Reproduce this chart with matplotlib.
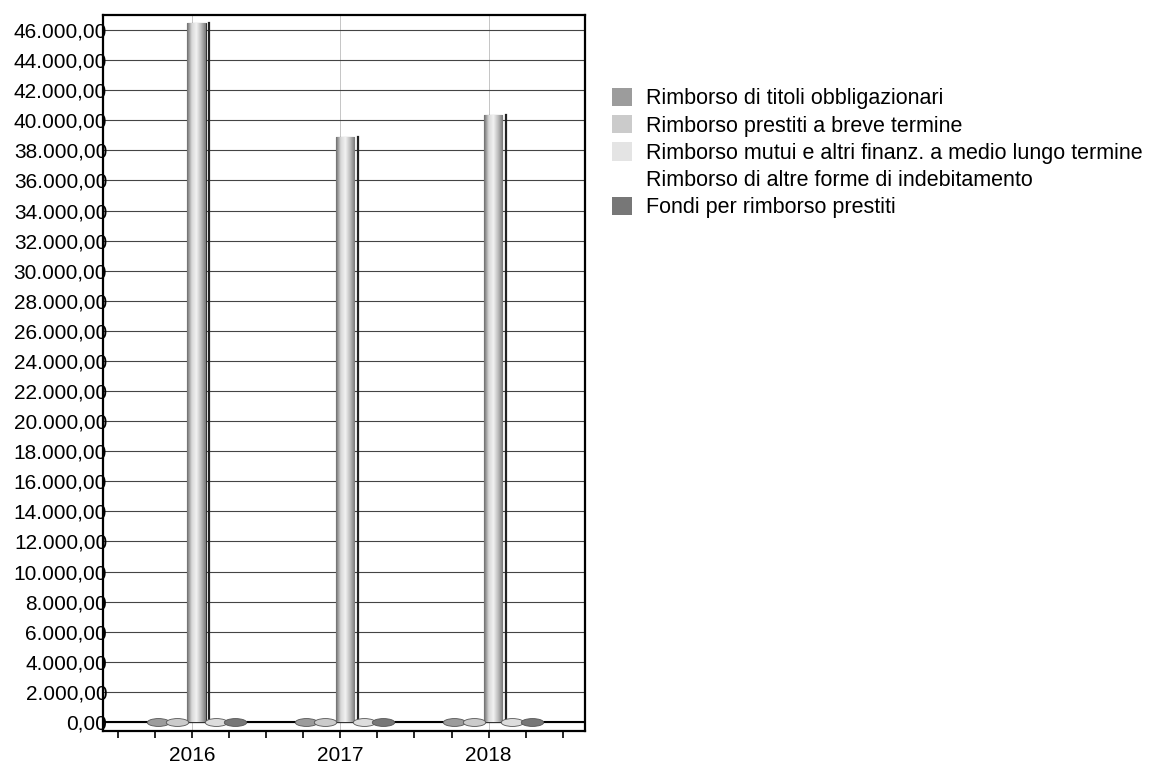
import matplotlib.pyplot as plt
import numpy as np
from matplotlib.colors import LinearSegmentedColormap
from matplotlib.path import Path
from matplotlib.transforms import Affine2D
from matplotlib.ticker import FuncFormatter, MultipleLocator

plt.rcParams.update({'font.family': ['Liberation Sans', 'DejaVu Sans']})

years = ['2016', '2017', '2018']
series = ['Rimborso di titoli obbligazionari',
          'Rimborso prestiti a breve termine',
          'Rimborso mutui e altri finanz. a medio lungo termine',
          'Rimborso di altre forme di indebitamento',
          'Fondi per rimborso prestiti']
titoli = [0, 0, 0]
breve = [0, 0, 0]
mutui = [46500, 38900, 40350]
altre = [0, 0, 0]
fondi = [0, 0, 0]
values = [titoli, breve, mutui, altre, fondi]
colors = ['#9c9c9c', '#cbcbcb', '#e4e4e4', '#ffffff', '#777777']

fig = plt.figure(figsize=(11.6, 7.78), dpi=100)
ax = fig.add_axes([103 / 1160, 47 / 778, 482 / 1160, 716 / 778])

x = np.arange(len(years))
width = 0.13
cyl = LinearSegmentedColormap.from_list('cyl', ['#6e6e6e', '#d8d8d8', '#f2f2f2', '#bdbdbd', '#7a7a7a'])
disc = Path.unit_circle().transformed(Affine2D().scale(1.0, 0.35))

for i, (name, vals, col) in enumerate(zip(series, values, colors)):
    pos = x + (i - 2) * width + 0.03
    bars = ax.bar(pos, vals, width * 0.95, color=col, edgecolor='#333333',
                  linewidth=0.8, label=name, zorder=3)
    for b, v in zip(bars, vals):
        if v > 0:
            im = ax.imshow(np.linspace(0, 1, 64).reshape(1, -1), cmap=cyl, aspect='auto',
                           extent=[b.get_x(), b.get_x() + b.get_width(), 0, v], zorder=4)
            im.set_clip_path(b)
            ax.plot([b.get_x() + b.get_width() * 1.2] * 2, [0, v], color='#222222', lw=1.6, zorder=4)
    small = [p for p, v in zip(pos, vals) if v == 0]
    if small:
        ax.scatter(small, [0] * len(small), s=260, marker=disc, color=col if col != '#ffffff' else '#dddddd',
                   edgecolor='#555555', linewidth=0.6, zorder=5)

ax.set_xlim(-0.6, 2.65)
ax.set_ylim(-600, 47000)
ax.set_xticks(x)
ax.set_xticklabels(years, fontsize=15)
ax.xaxis.set_minor_locator(MultipleLocator(0.25))
ax.tick_params(axis='x', which='both', direction='out', length=5, width=1.2, pad=6)
ax.set_yticks(np.arange(0, 46001, 2000))
ax.yaxis.set_major_formatter(FuncFormatter(
    lambda v, p: f'{v:,.2f}'.replace(',', 'X').replace('.', ',').replace('X', '.')))
ax.tick_params(axis='y', length=0, pad=-3, labelsize=15)
ax.grid(axis='y', color='#444444', lw=0.8, zorder=0)
ax.grid(axis='x', color='#bbbbbb', lw=0.6, zorder=0)
ax.axhline(0, color='black', lw=1.5, zorder=2)
for s in ax.spines.values():
    s.set_linewidth(1.6)
    s.set_color('black')

leg = fig.legend(loc='upper left', bbox_to_anchor=(601 / 1160, 1 - 77 / 778), frameon=False,
                 fontsize=15.5, handlelength=0.92, handleheight=0.92, handletextpad=0.67,
                 labelspacing=0.27, borderpad=0)
for h in leg.legend_handles:
    h.set_edgecolor('none')

fig.savefig('out.png', dpi=100)
